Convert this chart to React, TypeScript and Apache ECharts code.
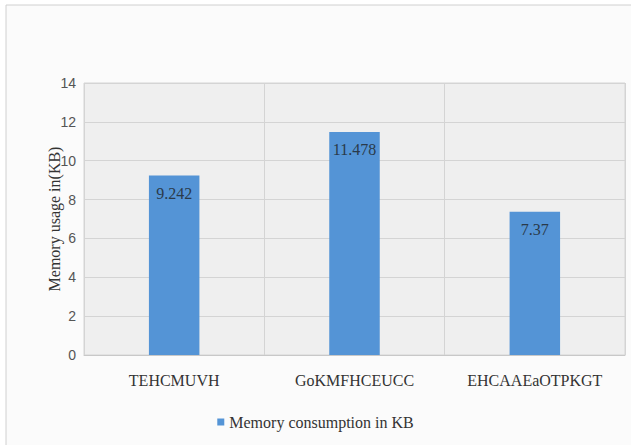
import React, { useEffect, useRef } from "react";
import * as echarts from "echarts";

const categories = ["TEHCMUVH", "GoKMFHCEUCC", "EHCAAEaOTPKGT"];
const memoryValues = [9.242, 11.478, 7.37];
const seriesName = "Memory consumption in KB";
const yAxisName = "Memory usage in(KB)";

const SERIF = "Times New Roman";
const SANS = "Arial";

export default function App() {
  const ref = useRef<HTMLDivElement>(null);
  useEffect(() => {
    if (!ref.current) return;
    const chart = echarts.init(ref.current, undefined, { renderer: "svg" });
    chart.setOption({
      animation: false,
      backgroundColor: "#ffffff",
      textStyle: { fontFamily: SERIF },
      graphic: [
        {
          type: "rect",
          shape: { x: 6, y: 5, width: 640, height: 450 },
          style: { fill: "#fbfbfb", stroke: "#d0d0d0", lineWidth: 1 },
          z: -10,
          silent: true,
        },
      ],
      grid: {
        left: 84,
        right: 6,
        top: 83,
        bottom: 90,
        show: true,
        backgroundColor: "#efefef",
        borderColor: "#d4d4d4",
        borderWidth: 1,
      },
      legend: {
        bottom: 10,
        left: "center",
        itemWidth: 7,
        itemHeight: 7,
        itemGap: 3,
        icon: "rect",
        textStyle: { fontFamily: SERIF, fontSize: 16, color: "#333" },
        data: [seriesName],
      },
      xAxis: {
        type: "category",
        data: categories,
        axisLine: { show: true, lineStyle: { color: "#c8c8c8" } },
        axisTick: { show: false },
        splitLine: { show: true, lineStyle: { color: "#d4d4d4" } },
        axisLabel: {
          interval: 0,
          margin: 17,
          fontFamily: SERIF,
          fontSize: 16,
          color: "#333",
        },
      },
      yAxis: {
        type: "value",
        min: 0,
        max: 14,
        interval: 2,
        name: yAxisName,
        nameLocation: "middle",
        nameGap: 22,
        nameMoveOverlap: false,
        nameTextStyle: { fontFamily: SERIF, fontSize: 16, color: "#333" },
        axisLine: { show: false },
        axisTick: { show: false },
        splitLine: { show: true, lineStyle: { color: "#d4d4d4" } },
        axisLabel: {
          margin: 8,
          fontFamily: SANS,
          fontSize: 14,
          color: "#555",
        },
      },
      series: [
        {
          name: seriesName,
          type: "bar",
          data: memoryValues,
          barWidth: "28%",
          itemStyle: { color: "#5494d6" },
          label: {
            show: true,
            position: "insideTop",
            distance: 10,
            fontFamily: SERIF,
            fontSize: 16,
            color: "#2a3a4a",
            formatter: (p: any) => String(p.value),
          },
        },
      ],
    });
    return () => chart.dispose();
  }, []);
  return <div ref={ref} style={{ width: 631, height: 445, position: "absolute", left: 0, top: 0 }} />;
}
